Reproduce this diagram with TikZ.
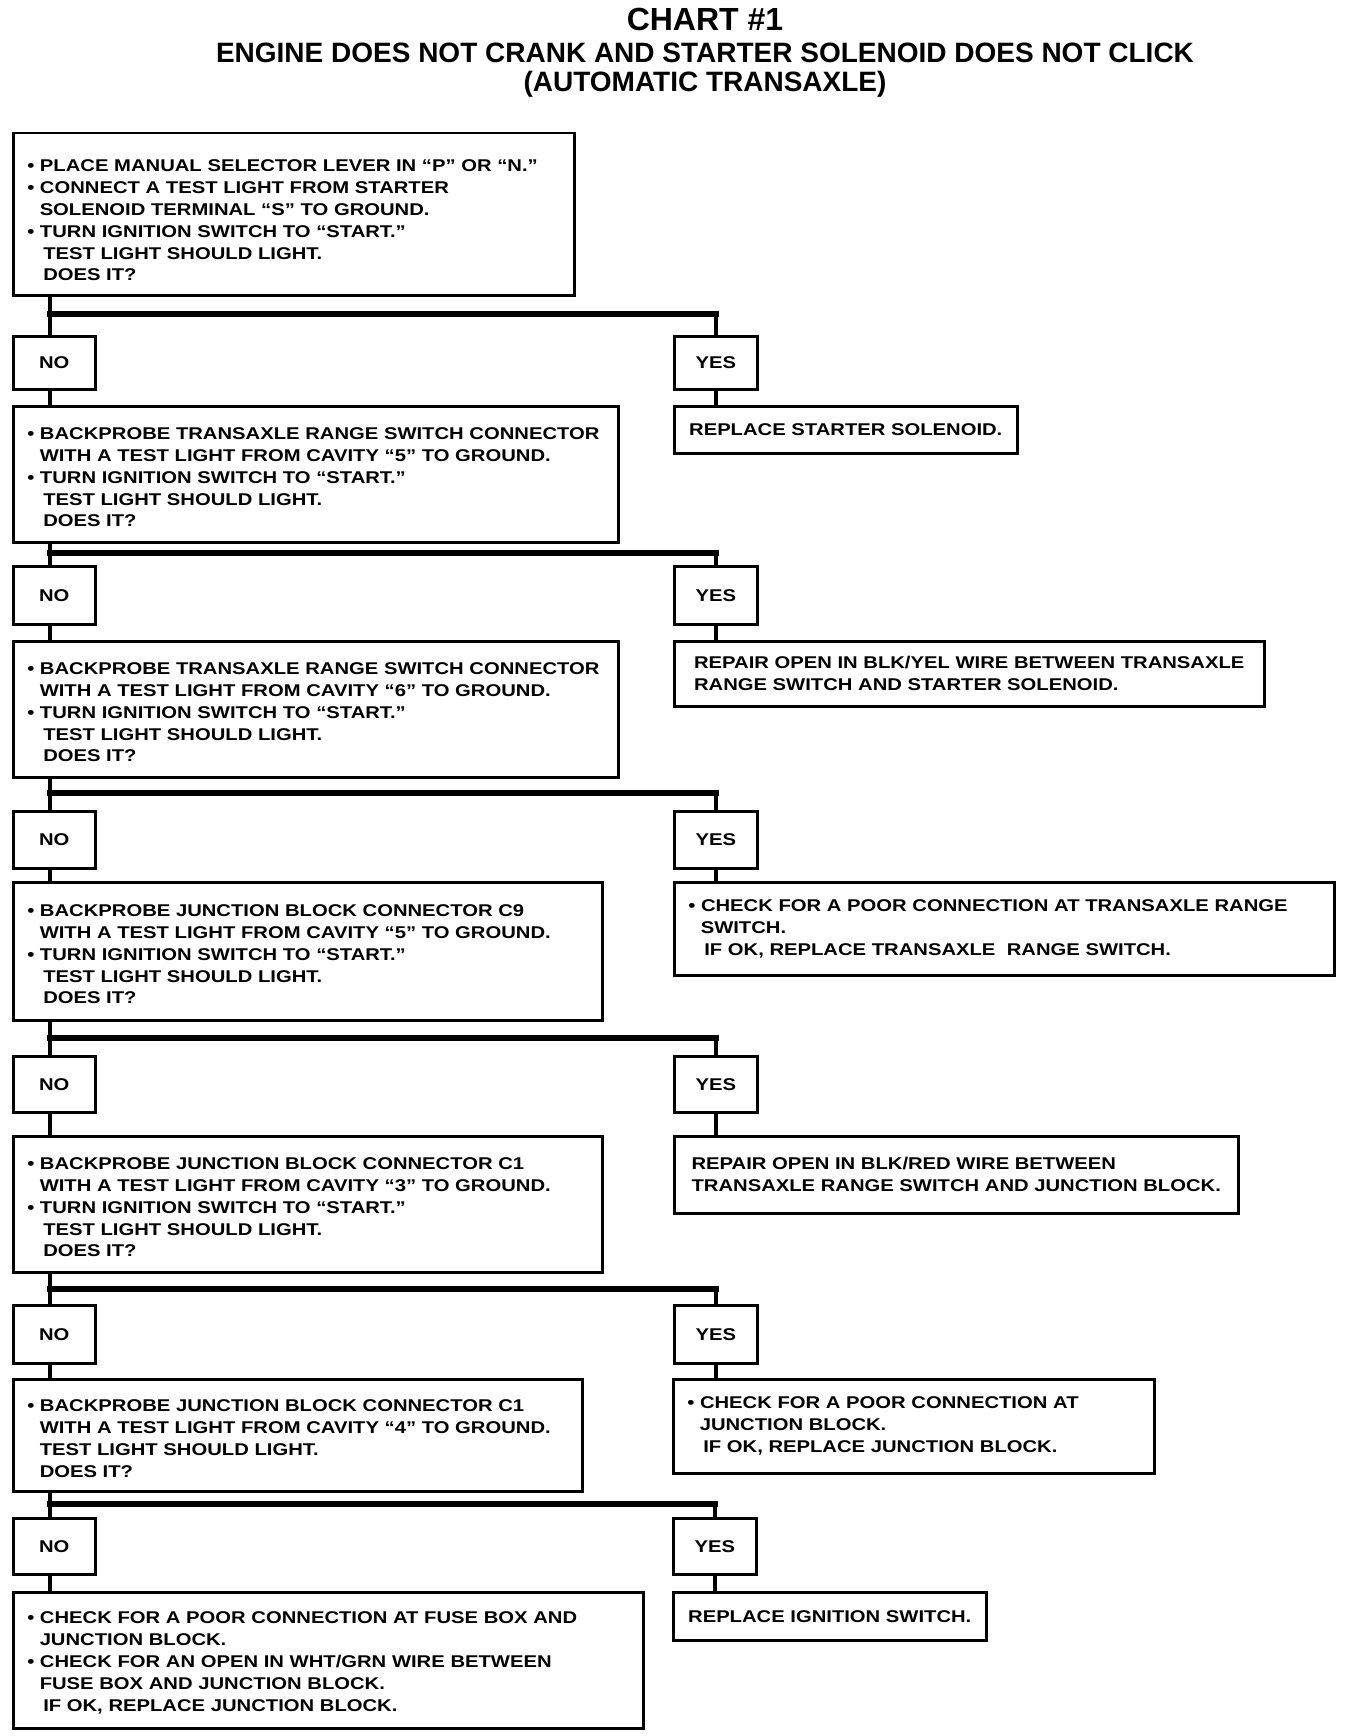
\documentclass[tikz,border=0pt]{standalone}
\usepackage{fontspec}
\setmainfont{Liberation Sans}[FakeStretch=1.19]
\newfontfamily\headfont{Liberation Sans}
\usetikzlibrary{positioning}

\newcommand{\ind}{\hspace*{12.5pt}}
\newcommand{\indd}{\hspace*{16pt}}
\newcommand{\lift}[1]{\rule{0pt}{#1}}
\tikzset{
  chk/.style={draw, line width=2.5pt, anchor=north west, align=left, inner xsep=14pt, inner ysep=0pt, font=\bfseries\fontsize{17}{21.9}\selectfont},
  ans/.style={draw, line width=2.5pt, anchor=north west, align=left, inner sep=0pt, font=\bfseries\fontsize{17}{21.9}\selectfont},
  stem/.style={line width=4pt},
  bar/.style={line width=6pt, line cap=rect},
  head/.style={anchor=base, font=\headfont\bfseries\fontsize{28}{32}\selectfont}
}

\begin{document}
\begin{tikzpicture}[x=1pt, y=-1pt]
\useasboundingbox (0,0) rectangle (1344,1736);

\node[head, font=\headfont\bfseries\fontsize{32}{36}\selectfont] (title) at (705,31) {CHART \#1};
\node[head] (subtitle) at (705,63) {ENGINE DOES NOT CRANK AND STARTER SOLENOID DOES NOT CLICK};
\node[head] (subnote) at (705,92) {(AUTOMATIC TRANSAXLE)};

% checks down the left side
\node[chk, text width=533pt, minimum height=162pt] (q1) at (12,132) {\lift{24pt}\textbullet\ PLACE MANUAL SELECTOR LEVER IN “P” OR “N.”\\ \textbullet\ CONNECT A TEST LIGHT FROM STARTER\\ \ind SOLENOID TERMINAL “S” TO GROUND.\\ \textbullet\ TURN IGNITION SWITCH TO “START.”\\ \indd TEST LIGHT SHOULD LIGHT.\\ \indd DOES IT?};
\node[chk, text width=577pt, minimum height=136pt] (q2) at (12,405) {\lift{18pt}\textbullet\ BACKPROBE TRANSAXLE RANGE SWITCH CONNECTOR\\ \ind WITH A TEST LIGHT FROM CAVITY “5” TO GROUND.\\ \textbullet\ TURN IGNITION SWITCH TO “START.”\\ \indd TEST LIGHT SHOULD LIGHT.\\ \indd DOES IT?};
\node[chk, text width=577pt, minimum height=136pt] (q3) at (12,640) {\lift{18pt}\textbullet\ BACKPROBE TRANSAXLE RANGE SWITCH CONNECTOR\\ \ind WITH A TEST LIGHT FROM CAVITY “6” TO GROUND.\\ \textbullet\ TURN IGNITION SWITCH TO “START.”\\ \indd TEST LIGHT SHOULD LIGHT.\\ \indd DOES IT?};
\node[chk, text width=561pt, minimum height=138pt] (q4) at (12,881) {\lift{18pt}\textbullet\ BACKPROBE JUNCTION BLOCK CONNECTOR C9\\ \ind WITH A TEST LIGHT FROM CAVITY “5” TO GROUND.\\ \textbullet\ TURN IGNITION SWITCH TO “START.”\\ \indd TEST LIGHT SHOULD LIGHT.\\ \indd DOES IT?};
\node[chk, text width=561pt, minimum height=136pt] (q5) at (12,1135) {\lift{18pt}\textbullet\ BACKPROBE JUNCTION BLOCK CONNECTOR C1\\ \ind WITH A TEST LIGHT FROM CAVITY “3” TO GROUND.\\ \textbullet\ TURN IGNITION SWITCH TO “START.”\\ \indd TEST LIGHT SHOULD LIGHT.\\ \indd DOES IT?};
\node[chk, text width=541pt, minimum height=112pt] (q6) at (12,1378) {\lift{18pt}\textbullet\ BACKPROBE JUNCTION BLOCK CONNECTOR C1\\ \ind WITH A TEST LIGHT FROM CAVITY “4” TO GROUND.\\ \ind TEST LIGHT SHOULD LIGHT.\\ \ind DOES IT?};
\node[chk, text width=602pt, minimum height=136pt] (q7) at (12,1591) {\lift{17pt}\textbullet\ CHECK FOR A POOR CONNECTION AT FUSE BOX AND\\ \ind JUNCTION BLOCK.\\ \textbullet\ CHECK FOR AN OPEN IN WHT/GRN WIRE BETWEEN\\ \ind FUSE BOX AND JUNCTION BLOCK.\\ \indd IF OK, REPLACE JUNCTION BLOCK.};

% NO / YES tags
\node[ans, minimum width=82pt, minimum height=53pt] (n1) at (12,335) {NO}; \node[ans, minimum width=83pt, minimum height=53pt] (y1) at (673,335) {YES};
\node[ans, minimum width=82pt, minimum height=58pt] (n2) at (12,565) {NO}; \node[ans, minimum width=83pt, minimum height=58pt] (y2) at (673,565) {YES};
\node[ans, minimum width=82pt, minimum height=57pt] (n3) at (12,810) {NO}; \node[ans, minimum width=83pt, minimum height=57pt] (y3) at (673,810) {YES};
\node[ans, minimum width=82pt, minimum height=56pt] (n4) at (12,1055) {NO}; \node[ans, minimum width=83pt, minimum height=56pt] (y4) at (673,1055) {YES};
\node[ans, minimum width=82pt, minimum height=58pt] (n5) at (12,1304) {NO}; \node[ans, minimum width=83pt, minimum height=58pt] (y5) at (673,1304) {YES};
\node[ans, minimum width=82pt, minimum height=56pt] (n6) at (12,1517) {NO}; \node[ans, minimum width=83pt, minimum height=56pt] (y6) at (672,1517) {YES};

% repairs on the right
\node[ans, minimum width=343pt, minimum height=47pt] (r1) at (673,405) {REPLACE STARTER SOLENOID.};
\node[ans, minimum width=590pt, minimum height=65pt] (r2) at (673,640) {REPAIR OPEN IN BLK/YEL WIRE BETWEEN TRANSAXLE\\ RANGE SWITCH AND STARTER SOLENOID.};
\node[chk, text width=632pt, minimum height=93pt] (r3) at (673,881) {\textbullet\ CHECK FOR A POOR CONNECTION AT TRANSAXLE RANGE\\ \ind SWITCH.\\ \indd IF OK, REPLACE TRANSAXLE\ \ RANGE SWITCH.};
\node[ans, minimum width=564pt, minimum height=77pt] (r4) at (673,1135) {REPAIR OPEN IN BLK/RED WIRE BETWEEN\\ TRANSAXLE RANGE SWITCH AND JUNCTION BLOCK.};
\node[chk, text width=453pt, minimum height=94pt] (r5) at (672,1378) {\textbullet\ CHECK FOR A POOR CONNECTION AT\\ \ind JUNCTION BLOCK.\\ \indd IF OK, REPLACE JUNCTION BLOCK.};
\node[ans, minimum width=313pt, minimum height=48pt] (r6) at (672,1591) {REPLACE IGNITION SWITCH.};

\coordinate (j1) at (50,314); \coordinate (j2) at (50,553); \coordinate (j3) at (50,793);
\coordinate (j4) at (50,1038); \coordinate (j5) at (50,1289); \coordinate (j6) at (50,1504);

\foreach \k/\nxt in {1/2,2/3,3/4,4/5,5/6,6/7} {
  \draw[stem] (q\k.south -| j\k) -- (j\k |- n\k.north);
  \draw[stem] (n\k.south -| j\k) -- (q\nxt.north -| j\k);
  \draw[bar] (j\k) -- (j\k -| y\k.north);
  \draw[stem] (j\k -| y\k.north) -- (y\k.north);
  \draw[stem] (y\k.south) -- (r\k.north -| y\k.south);
}
\end{tikzpicture}
\end{document}
